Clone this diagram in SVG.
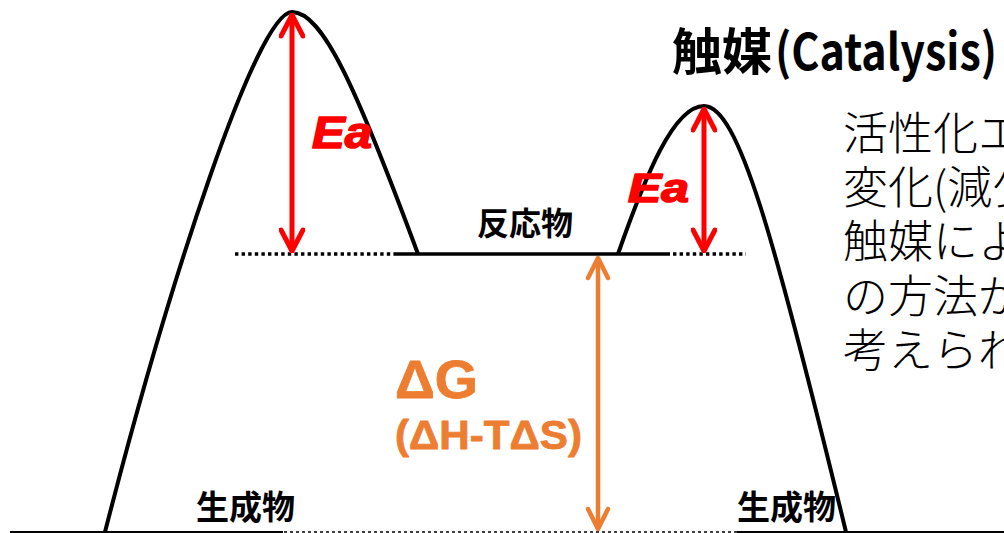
<svg xmlns="http://www.w3.org/2000/svg" width="1004" height="533" viewBox="0 0 1004 533">
<style>
.curve{fill:none;stroke:#000;stroke-width:4;stroke-linejoin:round}
.solid{stroke:#000;stroke-width:3.5}
.dots{stroke:#000;stroke-width:3.5;stroke-dasharray:3.4 3.2}
.base{stroke:#000;stroke-width:2}
.thin{stroke:#000;stroke-width:1.3;stroke-dasharray:3 3}
.red{stroke:#FF0000;stroke-width:5;fill:none}
.org{stroke:#ED7D31;stroke-width:4.5;fill:none}
.jpb{font-family:"Noto Sans CJK JP",sans-serif;font-weight:700;fill:#000}
.jpl{font-family:"Noto Sans CJK JP",sans-serif;font-weight:300;fill:#000;font-size:45px}
.ea{font-family:"Liberation Sans",Arial,sans-serif;font-weight:700;font-style:italic;fill:#FF0000;stroke:#FF0000;stroke-width:1.6;stroke-linejoin:round}
.dg{font-family:"Liberation Sans",Arial,sans-serif;font-weight:700;fill:#ED7D31;stroke:#ED7D31;stroke-width:0.8;stroke-linejoin:round}
</style>
<defs>
<marker id="hr" viewBox="-24 -13 26 26" markerWidth="26" markerHeight="26" refX="0" refY="0" orient="auto-start-reverse" markerUnits="userSpaceOnUse">
<path d="M-21,-11 L0,0 L-21,11" fill="none" stroke="#FF0000" stroke-width="5" stroke-linecap="round" stroke-linejoin="round"/>
</marker>
<marker id="ho" viewBox="-24 -13 26 26" markerWidth="26" markerHeight="26" refX="0" refY="0" orient="auto-start-reverse" markerUnits="userSpaceOnUse">
<path d="M-20,-10 L0,0 L-20,10" fill="none" stroke="#ED7D31" stroke-width="4.5" stroke-linecap="round" stroke-linejoin="round"/>
</marker>
</defs>
<rect width="1004" height="533" fill="#fff"/>

<g id="levels">
<line class="dots" x1="235" y1="254" x2="395" y2="254"/>
<line class="solid" x1="395" y1="254" x2="670" y2="254"/>
<line class="dots" x1="673" y1="254" x2="746" y2="254"/>
<line class="base" x1="10" y1="532" x2="283" y2="532"/>
<line class="thin" x1="272" y1="532" x2="742" y2="532"/>
<line class="base" x1="737" y1="532" x2="1004" y2="532"/>
</g>

<g id="curve-uncatalyzed">
<path class="curve" d="M105,532 C169,282 257,12 292,12 C322,12 355,84 418,254"/>
</g>
<g id="curve-catalyzed">
<path class="curve" d="M618,254 C646,174 674,106 704,106 C738,106 773,232 846,532"/>
</g>

<g id="connectors">
<line class="red" x1="292" y1="15" x2="292" y2="251" marker-start="url(#hr)" marker-end="url(#hr)"/>
<line class="red" x1="704" y1="109" x2="704" y2="251" marker-start="url(#hr)" marker-end="url(#hr)"/>
<line class="org" x1="598" y1="258" x2="598" y2="529" marker-start="url(#ho)" marker-end="url(#ho)"/>
</g>

<g id="labels">
<text class="ea" x="312" y="148" font-size="45" textLength="60" lengthAdjust="spacingAndGlyphs">Ea</text>
<text class="ea" x="628" y="202" font-size="40" textLength="61" lengthAdjust="spacingAndGlyphs">Ea</text>
<text class="dg" x="395" y="398" font-size="53" textLength="83" lengthAdjust="spacingAndGlyphs">ΔG</text>
<text class="dg" x="395" y="449" font-size="40" textLength="187" lengthAdjust="spacingAndGlyphs">(ΔH-TΔS)</text>
<text class="jpb" x="477" y="235" font-size="32">反応物</text>
<text class="jpb" x="196" y="519" font-size="33">生成物</text>
<text class="jpb" x="737" y="519" font-size="33">生成物</text>
</g>

<g id="title">
<text class="jpb" x="672" y="70" font-size="50">触媒</text>
<text class="jpb" x="775" y="70" font-size="50" textLength="222" lengthAdjust="spacingAndGlyphs">(Catalysis)</text>
</g>

<g id="body">
<text class="jpl" x="843" y="150">活性化エ</text>
<text class="jpl" x="843" y="204">変化(減少</text>
<text class="jpl" x="843" y="258">触媒によ</text>
<text class="jpl" x="843" y="313">の方法が</text>
<text class="jpl" x="843" y="367">考えられ</text>
</g>
</svg>
